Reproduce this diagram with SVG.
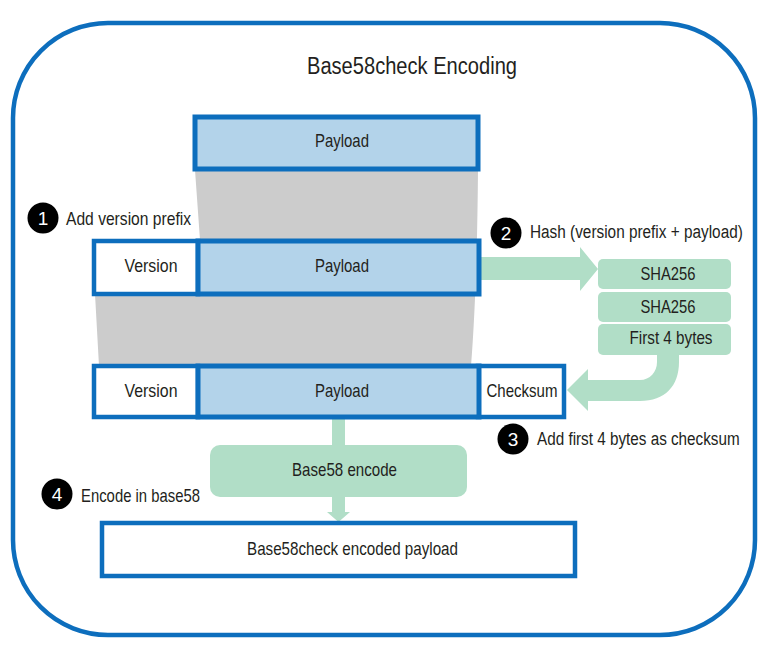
<svg xmlns="http://www.w3.org/2000/svg" width="772" height="647" viewBox="0 0 772 647">
<style>
text{font-family:"Liberation Sans",Arial,sans-serif;fill:#231f20;}
.t{font-size:19px;}
.c{text-anchor:middle;}
.blue{fill:#b3d3ea;stroke:#0d6ebd;stroke-width:5;}
.white{fill:#ffffff;stroke:#0d6ebd;stroke-width:4.5;}
.green{fill:#b1dec7;}
.num{fill:#ffffff;font-size:19px;text-anchor:middle;}
</style>
<rect x="0" y="0" width="772" height="647" fill="#ffffff"/>
<rect id="frame" x="13" y="23" width="742" height="612" rx="95" ry="95" fill="#ffffff" stroke="#0d6ebd" stroke-width="4.5"/>
<text id="title" x="412" y="74" font-size="23" class="c" textLength="210" lengthAdjust="spacingAndGlyphs">Base58check Encoding</text>

<g id="connectors">
  <path d="M195,170 L478,170 Q477,290 471,366 L99,366 L95,294 L200,240 Z" fill="#cccccc"/>
  <path d="M480,257 L580,257 L580,247 L598,269 L580,291 L580,280 L480,280 Z" class="green"/>
  <path d="M657,354 L679,354 L679,362 C679,386 665,401 640,401 L588,401 L588,411 L567,390 L588,369 L588,380 L640,380 C650,380 657,372 657,362 Z" class="green"/>
  <path d="M332,419 L345,419 L345,446 L332,446 Z" class="green"/>
  <path d="M332,496 L345,496 L345,512 L350,512 L338.5,522 L327,512 L332,512 Z" class="green"/>
</g>

<g id="payload-top">
  <rect x="195" y="117" width="283" height="52" class="blue"/>
  <text x="342" y="147" class="t c" textLength="54" lengthAdjust="spacingAndGlyphs">Payload</text>
</g>

<g id="step1">
  <circle cx="43" cy="218" r="15.5" fill="#000000"/>
  <text x="43" y="225" class="num">1</text>
  <text x="66" y="225" class="t" textLength="125" lengthAdjust="spacingAndGlyphs">Add version prefix</text>
</g>

<g id="row2-version">
  <rect x="94" y="241" width="104" height="53" class="white"/>
  <text x="151" y="272" class="t c" textLength="53" lengthAdjust="spacingAndGlyphs">Version</text>
</g>
<g id="row2-payload">
  <rect x="198" y="241" width="281" height="53" class="blue"/>
  <text x="342" y="272" class="t c" textLength="54" lengthAdjust="spacingAndGlyphs">Payload</text>
</g>

<g id="step2">
  <circle cx="506" cy="233" r="15.5" fill="#000000"/>
  <text x="506" y="240" class="num">2</text>
  <text transform="translate(530,238) scale(0.808,1)" x="0" y="0" class="t">Hash (version prefix + payload)</text>
</g>

<g id="sha1">
  <rect x="598" y="259" width="133" height="30" rx="5" class="green"/>
  <text x="668" y="280" class="t c" textLength="55" lengthAdjust="spacingAndGlyphs">SHA256</text>
</g>
<g id="sha2">
  <rect x="598" y="292" width="133" height="30" rx="5" class="green"/>
  <text x="668" y="313" class="t c" textLength="55" lengthAdjust="spacingAndGlyphs">SHA256</text>
</g>
<g id="first4">
  <rect x="598" y="324" width="133" height="31" rx="5" class="green"/>
  <text x="671" y="344" class="t c" textLength="83" lengthAdjust="spacingAndGlyphs">First 4 bytes</text>
</g>

<g id="row3-version">
  <rect x="94" y="366" width="104" height="51" class="white"/>
  <text x="151" y="397" class="t c" textLength="53" lengthAdjust="spacingAndGlyphs">Version</text>
</g>
<g id="row3-checksum">
  <rect x="478" y="366" width="86" height="51" class="white"/>
  <text x="522" y="397" class="t c" textLength="71" lengthAdjust="spacingAndGlyphs">Checksum</text>
</g>
<g id="row3-payload">
  <rect x="198" y="366" width="281" height="51" class="blue"/>
  <text x="342" y="397" class="t c" textLength="54" lengthAdjust="spacingAndGlyphs">Payload</text>
</g>

<g id="step3">
  <circle cx="513" cy="439" r="15.5" fill="#000000"/>
  <text x="513" y="446" class="num">3</text>
  <text transform="translate(537,445) scale(0.804,1)" x="0" y="0" class="t">Add first 4 bytes as checksum</text>
</g>

<g id="base58-encode">
  <rect x="210" y="445" width="257" height="52" rx="10" class="green"/>
  <text x="344.5" y="476" class="t c" textLength="105" lengthAdjust="spacingAndGlyphs">Base58 encode</text>
</g>

<g id="step4">
  <circle cx="57" cy="494" r="15.5" fill="#000000"/>
  <text x="57" y="501" class="num">4</text>
  <text x="81" y="502" class="t" textLength="119" lengthAdjust="spacingAndGlyphs">Encode in base58</text>
</g>

<g id="result">
  <rect x="102" y="523" width="473" height="53" class="white"/>
  <text x="352.5" y="555" class="t c" textLength="211" lengthAdjust="spacingAndGlyphs">Base58check encoded payload</text>
</g>
</svg>
